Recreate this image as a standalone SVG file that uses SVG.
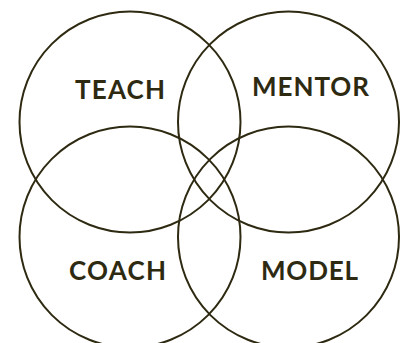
<svg xmlns="http://www.w3.org/2000/svg" width="401" height="343" viewBox="0 0 401 343">
<style>
.c{fill:none;stroke:#2e2a12;stroke-width:2}
.t{font-family:Lato,"Liberation Sans",sans-serif;font-weight:bold;font-size:26px;fill:#2e2a12;letter-spacing:1px}
</style>
<rect width="401" height="343" fill="#fff"/>
<g id="teach"><circle class="c" cx="130" cy="122" r="110.5"/><text class="t" x="75" y="99" textLength="91">TEACH</text></g>
<g id="mentor"><circle class="c" cx="288.5" cy="122" r="110.5"/><text class="t" x="252" y="96" textLength="118">MENTOR</text></g>
<g id="coach"><circle class="c" cx="130" cy="237" r="110.5"/><text class="t" x="69" y="280" textLength="98">COACH</text></g>
<g id="model"><circle class="c" cx="288.5" cy="237" r="110.5"/><text class="t" x="261" y="280" textLength="98">MODEL</text></g>
<g id="connectors"/>
</svg>
